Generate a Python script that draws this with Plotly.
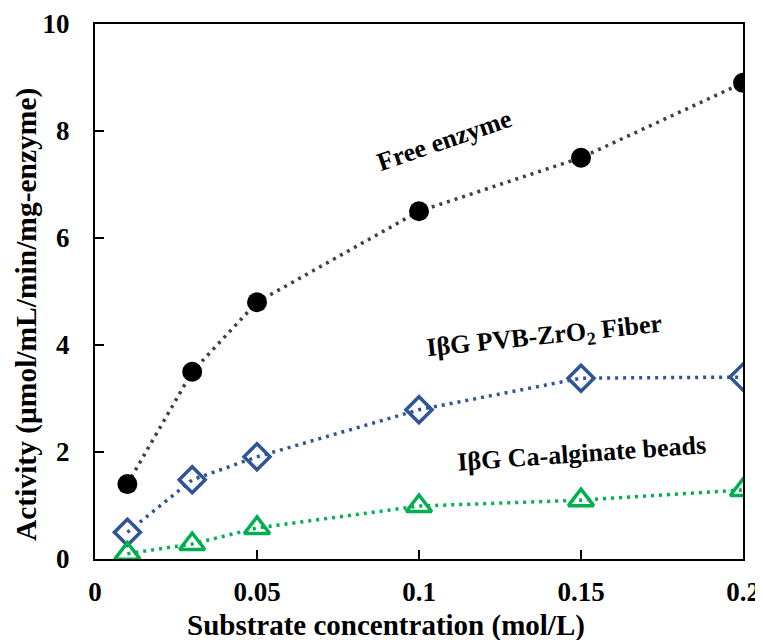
import plotly.graph_objects as go

x = [0.01, 0.03, 0.05, 0.1, 0.15, 0.2]
free_enzyme = [1.4, 3.5, 4.8, 6.5, 7.5, 8.9]
pvb_fiber = [0.5, 1.48, 1.91, 2.79, 3.38, 3.4]
ca_alginate = [0.1, 0.28, 0.58, 0.99, 1.1, 1.29]

x_ticks = [0, 0.05, 0.1, 0.15, 0.2]
x_tick_labels = ["0", "0.05", "0.1", "0.15", "0.2"]
y_ticks = [0, 2, 4, 6, 8, 10]

FONT = "Liberation Serif"
DOT = "3px,5px"

fig = go.Figure()
fig.add_trace(go.Scatter(
    x=x, y=free_enzyme, mode="lines+markers",
    line=dict(color="#404040", width=3.5, dash=DOT),
    marker=dict(symbol="circle", size=20, color="#000000"),
    name="Free enzyme"))
fig.add_trace(go.Scatter(
    x=x, y=pvb_fiber, mode="lines+markers",
    line=dict(color="#2F5597", width=3.5, dash=DOT),
    marker=dict(symbol="diamond-open", size=20, color="#2F5597", line=dict(width=3.5, color="#2F5597")),
    name="IβG PVB-ZrO2 Fiber"))
fig.add_trace(go.Scatter(
    x=x, y=ca_alginate, mode="lines+markers",
    line=dict(color="#00B050", width=3.5, dash=DOT),
    marker=dict(symbol="triangle-up-open", size=22, color="#00B050", line=dict(width=3.5, color="#00B050")),
    name="IβG Ca-alginate beads"))

ann_font = dict(family=FONT, size=26, color="#000000")
fig.add_annotation(x=0.1077, y=7.83, text="<b>Free enzyme</b>", showarrow=False, textangle=-19, font=ann_font)
fig.add_annotation(x=0.1386, y=4.15, text="<b>IβG PVB-ZrO<sub>2</sub> Fiber</b>", showarrow=False, textangle=-6, font=ann_font)
fig.add_annotation(x=0.150, y=1.98, text="<b>IβG Ca-alginate beads</b>", showarrow=False, textangle=-4, font=ann_font)

title_font = dict(family=FONT, size=29, color="#000000")
# axis titles (placed as paper annotations to match the reference's offsets)
fig.add_annotation(xref="paper", yref="paper", x=0.449, y=0, yshift=-66, yanchor="middle",
                   text="<b>Substrate concentration (mol/L)</b>", showarrow=False, font=title_font)
fig.add_annotation(xref="paper", yref="paper", x=0, y=0.456, xshift=-69, xanchor="center", yanchor="middle",
                   text="<b>Activity (μmol/mL/min/mg-enzyme)</b>", showarrow=False, textangle=-90,
                   borderpad=0, font=dict(family=FONT, size=29.5, color="#000000"))

# page has 8px body margin: figure sized/offset to compensate
fig.update_layout(
    width=755, height=632,
    margin=dict(l=87, r=20, t=16, b=81, autoexpand=False),
    paper_bgcolor="white", plot_bgcolor="white",
    showlegend=False,
    font=dict(family=FONT, size=27, color="#000000"),
)
fig.update_xaxes(
    range=[0, 0.2], tickvals=x_ticks, ticktext=["<b>%s</b>" % t for t in x_tick_labels],
    showgrid=False, zeroline=False, showline=True, linecolor="#000000", linewidth=2, mirror=True,
    ticks="inside", ticklen=9, tickwidth=2, tickcolor="#000000",
    tickfont=dict(family=FONT, size=27, color="#000000"),
    ticklabelstandoff=8,
)
fig.update_yaxes(
    range=[0, 10], tickvals=y_ticks, ticktext=["<b>%d</b>" % t for t in y_ticks],
    showgrid=False, zeroline=False, showline=True, linecolor="#000000", linewidth=2, mirror=True,
    ticks="inside", ticklen=9, tickwidth=2, tickcolor="#000000",
    tickfont=dict(family=FONT, size=27, color="#000000"),
    ticklabelstandoff=18,
)

fig.write_html("out.html")
